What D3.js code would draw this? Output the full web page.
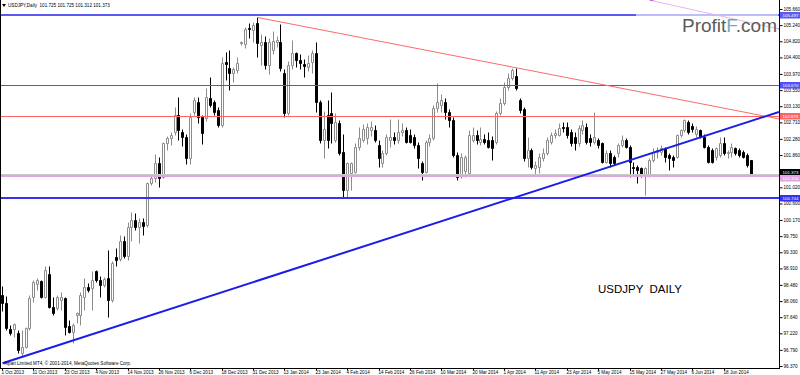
<!DOCTYPE html>
<html>
<head>
<meta charset="utf-8">
<script src="https://cdn.jsdelivr.net/npm/d3@7"></script>
<style>
body { margin: 0; background: #fff; }
svg { display: block; }
text { font-family: "Liberation Sans", Arial, sans-serif; }
</style>
</head>
<body>
<svg id="drawing_region"></svg>
<script>
// USDJPY daily, 1 Oct 2013 .. 27 Jun 2014
const opens = [
  98.22,98.00,97.33,97.32,97.22,96.70,96.87,97.35,98.17,98.50,
  98.57,98.17,98.76,97.91,97.87,98.09,98.13,97.40,97.26,97.69,
  97.70,98.17,98.43,98.39,98.83,98.61,98.48,98.65,98.09,99.20,
  99.15,99.61,99.22,99.99,100.17,99.99,100.13,100.04,101.12,101.25,
  101.65,101.30,102.17,102.30,102.47,102.90,102.47,102.34,101.77,102.99,
  103.25,102.86,102.82,103.34,103.25,103.03,102.64,104.29,104.12,103.99,
  104.07,104.77,104.74,105.16,105.11,105.30,104.72,104.81,104.20,104.58,
  104.79,104.81,103.99,102.95,104.20,104.52,104.33,104.22,104.16,104.29,
  104.51,103.25,102.25,102.90,102.95,102.25,102.69,101.95,100.95,101.40,
  101.43,102.08,102.25,102.30,102.51,102.51,102.12,101.65,101.90,102.25,
  102.32,102.25,102.47,102.51,102.38,102.34,102.12,101.65,101.43,102.21,
  102.30,103.08,103.16,103.25,102.99,102.77,101.86,101.34,101.45,101.39,
  102.25,102.38,102.21,102.27,102.25,102.25,102.21,102.95,103.21,103.64,
  103.86,103.92,103.29,103.05,101.78,101.99,101.52,101.56,101.78,101.91,
  102.21,102.38,102.38,102.60,102.60,102.47,102.34,102.16,102.51,102.60,
  102.30,102.21,102.25,102.16,101.69,101.90,101.82,101.90,102.12,102.25,
  102.08,101.56,101.56,101.51,101.34,101.34,101.73,101.95,101.95,102.03,
  101.86,101.82,101.82,102.38,102.51,102.73,102.62,102.42,102.51,102.34,
  102.08,101.99,101.82,101.86,102.16,101.90,101.95,102.03,101.99,101.95,
  101.86,101.725
];
const highs = [
  98.45,98.18,97.44,97.50,97.31,97.31,97.39,98.22,98.61,98.65,
  98.62,98.98,98.98,98.17,98.22,98.30,98.17,97.57,97.48,97.78,
  98.30,98.65,98.52,98.83,98.87,98.70,98.68,99.39,99.09,99.43,
  99.78,99.74,100.13,100.39,100.34,100.21,100.21,101.17,101.31,101.88,
  101.80,102.20,102.36,102.45,103.10,103.37,102.55,102.40,102.95,103.38,
  103.38,102.90,103.60,103.90,103.30,103.10,104.40,104.55,104.60,104.15,
  104.40,104.82,105.18,105.30,105.32,105.44,105.00,104.95,104.90,105.10,
  104.95,105.27,104.10,104.30,104.85,104.55,104.50,104.35,104.45,104.60,
  104.81,103.30,103.00,103.29,103.50,102.95,102.77,102.40,101.68,101.68,
  102.17,102.60,102.68,102.70,102.75,102.65,102.25,101.98,102.40,102.81,
  102.45,102.81,102.70,102.60,102.55,102.40,102.20,101.70,102.25,102.40,
  103.15,103.74,103.45,103.35,103.05,102.85,101.95,101.90,101.85,102.51,
  102.60,102.50,102.60,102.40,102.47,102.35,103.00,103.35,103.75,104.00,
  104.12,104.13,103.35,103.10,102.34,102.05,101.70,101.90,102.05,102.34,
  102.47,102.55,102.70,102.73,102.72,102.55,102.45,102.65,102.78,102.70,
  102.40,102.99,102.30,102.21,101.99,101.99,101.86,102.16,102.38,102.30,
  102.12,101.69,101.60,101.56,101.56,101.77,102.03,102.08,102.12,102.08,
  101.90,101.86,102.42,102.55,102.79,102.77,102.70,102.62,102.55,102.42,
  102.12,102.03,102.08,102.34,102.34,101.99,102.16,102.08,102.03,101.99,
  101.90,101.725
];
const lows = [
  97.80,97.31,97.18,97.13,96.72,96.62,96.83,97.31,98.04,98.35,
  98.13,98.13,97.87,97.70,97.83,97.83,97.18,97.22,96.98,97.48,
  97.44,97.83,98.30,97.83,98.56,98.17,98.43,97.65,98.04,98.96,
  99.09,99.17,99.13,99.61,99.91,99.56,99.78,99.99,101.08,101.15,
  101.02,101.25,102.00,102.12,102.38,102.25,102.10,101.62,101.62,102.90,
  102.70,102.15,102.75,103.10,102.90,102.58,102.60,103.80,103.55,103.75,
  104.00,104.73,104.65,104.90,104.80,104.40,104.20,104.10,103.98,104.50,
  104.68,104.05,102.86,102.90,104.10,104.15,104.10,103.88,104.05,103.99,
  102.99,102.17,101.78,102.03,102.17,102.20,101.86,100.76,100.76,100.95,
  101.38,102.00,102.20,102.15,102.35,102.20,101.55,101.56,101.85,102.08,
  102.15,102.17,102.35,102.17,102.17,102.05,101.52,101.21,101.38,102.10,
  102.25,102.98,102.98,102.80,102.60,101.80,101.22,101.25,101.30,101.34,
  102.20,102.15,102.12,102.15,102.04,101.73,102.15,102.90,103.15,103.55,
  103.80,103.55,102.95,101.70,101.56,101.50,101.33,101.40,101.70,101.86,
  102.15,102.30,102.35,102.45,102.30,102.10,101.98,102.10,102.40,102.15,
  102.10,102.15,102.04,101.64,101.64,101.56,101.60,101.82,102.08,102.03,
  101.30,101.34,101.12,101.30,100.82,101.30,101.69,101.77,101.86,101.69,
  101.47,101.56,101.77,102.34,102.47,102.42,102.45,102.34,102.30,102.03,
  101.64,101.65,101.73,101.82,101.86,101.77,101.82,101.86,101.82,101.77,
  101.56,101.312
];
const closes = [
  98.00,97.35,97.24,97.46,96.79,96.87,97.35,98.13,98.56,98.60,
  98.17,98.87,97.91,97.74,98.17,98.17,97.39,97.26,97.44,97.74,
  98.22,98.43,98.36,98.61,98.61,98.48,98.63,98.09,99.04,99.13,
  99.61,99.22,99.99,100.17,99.99,100.13,100.01,101.12,101.25,101.65,
  101.26,102.17,102.30,102.38,102.90,102.51,102.34,101.77,102.86,103.28,
  102.86,102.43,103.36,103.16,102.99,102.64,104.25,104.22,103.99,104.09,
  104.25,104.79,105.13,105.13,105.24,104.77,104.81,104.20,104.81,104.83,
  104.85,104.12,102.95,104.20,104.52,104.33,104.25,104.18,104.26,104.51,
  103.25,102.25,102.55,102.25,102.69,102.73,101.90,100.95,101.64,101.65,
  102.08,102.30,102.55,102.60,102.60,102.25,101.78,101.90,102.34,102.34,
  102.25,102.47,102.51,102.21,102.21,102.12,101.78,101.43,102.21,102.30,
  103.08,103.25,103.29,102.99,102.77,101.86,101.30,101.82,101.80,102.38,
  102.38,102.25,102.27,102.21,102.08,102.04,102.95,103.21,103.64,103.86,
  104.07,103.60,103.03,101.78,101.99,101.56,101.60,101.82,101.91,102.25,
  102.38,102.43,102.56,102.56,102.38,102.16,102.16,102.56,102.64,102.21,
  102.21,102.34,102.12,101.69,101.90,101.64,101.64,102.12,102.25,102.08,
  101.69,101.51,101.47,101.34,101.51,101.73,101.95,101.99,102.03,101.82,
  101.77,101.73,102.38,102.51,102.77,102.47,102.55,102.55,102.34,102.08,
  101.69,101.69,102.03,102.16,101.90,101.95,102.08,101.90,101.86,101.82,
  101.60,101.373
];

const holidays = ['2013-12-25', '2014-01-01'];

const timeLabels = ['1 Oct 2013','11 Oct 2013','23 Oct 2013','4 Nov 2013','14 Nov 2013','26 Nov 2013',
  '6 Dec 2013','18 Dec 2013','31 Dec 2013','13 Jan 2014','23 Jan 2014','4 Feb 2014','14 Feb 2014',
  '26 Feb 2014','10 Mar 2014','20 Mar 2014','1 Apr 2014','11 Apr 2014','23 Apr 2014','5 May 2014',
  '15 May 2014','27 May 2014','6 Jun 2014','18 Jun 2014'];

const priceTicks = ['105.660','105.240','104.820','104.400','103.970','103.550','103.130','102.710',
  '102.280','101.860','101.440','101.020','100.600','100.170','99.750','99.330','98.910','98.480',
  '98.060','97.640','97.220','96.790','96.370'];

// horizontal levels drawn on the chart
const levelPrices = [105.497, 103.670, 102.875, 101.316, 100.744];

// trend lines as [bar index, price] anchors, drawn as rays to the right
const trendHigh = [[65, 105.44], [131, 104.13]];
const trendLow = [[0, 96.44], [191, 102.75]];
const trendOld = [[165, 105.89], [197.5, 105.15]];

const symbolName = 'USDJPY,Daily';
const chartTitle = 'USDJPY  DAILY';
const copyright = 'Alpari Limited MT4, \u00a9 2001-2014, MetaQuotes Software Corp.';

// build trading days (weekdays, without the two holidays)
const fmtKey = d3.timeFormat('%Y-%m-%d');
const fmtLabel = d3.timeFormat('%-d %b %Y');
const dates = [];
let day = new Date(2013, 9, 1);
while (dates.length < opens.length) {
    const wd = day.getDay();
    if (wd !== 0 && wd !== 6 && !holidays.includes(fmtKey(day))) dates.push(new Date(day));
    day = d3.timeDay.offset(day, 1);
}
const data = dates.map((d, i) => ({ i: i, date: d, o: opens[i], h: highs[i], l: lows[i], c: closes[i] }));

class CandleChart {
  constructor(config, data) {
    this.config = {
      parent: config.parent,
      width: config.width || 800,
      height: config.height || 375,
      plotRight: config.plotRight || 779,
      plotBottom: config.plotBottom || 368
    };
    this.data = data;
    this.init();
  }
  init() {
    let self = this;
    self.svg = d3.select(self.config.parent)
        .attr('width', self.config.width)
        .attr('height', self.config.height);

    // one bar every ~3.92 px, chart shifted so the last bar sits near x=752
    self.xscale = d3.scaleLinear()
        .domain([0, self.data.length - 1])
        .range([2.5, 751.6]);
    self.yscale = d3.scaleLinear()
        .domain([96.318, 105.894])
        .range([self.config.plotBottom, 0]);

    self.svg.append('defs').append('clipPath').attr('id', 'plotclip')
      .append('rect')
        .attr('x', 0).attr('y', 0)
        .attr('width', self.config.plotRight).attr('height', self.config.plotBottom);

    self.chart = self.svg.append('g');
    self.objects = self.svg.append('g').attr('clip-path', 'url(#plotclip)');
    self.overlay = self.svg.append('g');
  }
  render() {
    let self = this;
    const xs = self.xscale, ys = self.yscale;
    const R = self.config.plotRight, B = self.config.plotBottom;
    const cx = i => Math.floor(xs(i)) + 0.5;
    const snap = p => Math.round(ys(p)) + 0.5;

    // candles
    const bars = self.chart.selectAll('.bar')
      .data(self.data)
      .join('g')
        .attr('class', 'bar');
    bars.append('line')
        .attr('x1', d => cx(d.i)).attr('x2', d => cx(d.i))
        .attr('y1', d => snap(d.h)).attr('y2', d => snap(d.l))
        .attr('stroke', d => d.c >= d.o ? '#8c8c8c' : '#000')
        .attr('stroke-width', 1);
    bars.append('path')
        .attr('d', d => {
          const x0 = cx(d.i) - 1, x1 = cx(d.i) + 1;
          const y0 = snap(Math.max(d.o, d.c)), y1 = snap(Math.min(d.o, d.c));
          return `M${x0},${y0}H${x1}V${y1}H${x0}Z`;
        })
        .attr('fill', d => d.c >= d.o ? '#fff' : '#000')
        .attr('stroke', d => d.c >= d.o ? '#8c8c8c' : '#000')
        .attr('stroke-width', 1);

    // bid line at the last close
    const last = self.data[self.data.length - 1];
    self.objects.append('line')
        .attr('x1', 0).attr('x2', R)
        .attr('y1', snap(last.c)).attr('y2', snap(last.c))
        .attr('stroke', '#c8c8c8');

    // horizontal levels
    const levelLook = [
      { color: '#5a5af2', width: 2 },
      { color: '#5050ff', width: 1 },
      { color: '#ff6464', width: 1 },
      { color: '#e2a4e2', width: 2 },
      { color: '#3434ee', width: 2 }
    ];
    self.objects.selectAll('.level')
      .data(levelPrices)
      .join('line')
        .attr('class', 'level')
        .attr('x1', 0).attr('x2', R)
        .attr('y1', (d, i) => Math.round(ys(d)) + (levelLook[i].width === 2 ? 0 : 0.5))
        .attr('y2', (d, i) => Math.round(ys(d)) + (levelLook[i].width === 2 ? 0 : 0.5))
        .attr('stroke', (d, i) => levelLook[i].color)
        .attr('stroke-width', (d, i) => levelLook[i].width);

    // trend rays
    const rightIndex = xs.invert(R);
    const ray = a => {
      const slope = (a[1][1] - a[0][1]) / (a[1][0] - a[0][0]);
      return [[a[0][0], a[0][1]], [rightIndex, a[0][1] + slope * (rightIndex - a[0][0])]];
    };
    const trends = [
      { pts: ray(trendOld), color: '#c848c8', width: 1 },
      { pts: ray(trendHigh), color: '#ff6a6a', width: 1 },
      { pts: ray(trendLow), color: '#1c1ce8', width: 2 }
    ];
    const line = d3.line().x(p => xs(p[0])).y(p => ys(p[1]));
    self.objects.selectAll('.trend')
      .data(trends)
      .join('path')
        .attr('class', 'trend')
        .attr('d', d => line(d.pts))
        .attr('fill', 'none')
        .attr('stroke', d => d.color)
        .attr('stroke-width', d => d.width);

    // watermark with a faded backing
    self.overlay.append('rect')
        .attr('x', 636).attr('y', 1).attr('width', 142).attr('height', 40)
        .attr('fill', '#fff').attr('opacity', 0.6);
    const wm = self.overlay.append('text')
        .attr('x', 777).attr('y', 32)
        .attr('text-anchor', 'end')
        .attr('font-size', 19)
        .attr('fill', '#5c5c5c');
    wm.append('tspan').text('Profit');
    wm.append('tspan').attr('fill', '#79a9b8').text('F');
    wm.append('tspan').text('.com');

    // frame
    self.overlay.append('line')
        .attr('x1', 0.5).attr('x2', 0.5).attr('y1', 0).attr('y2', B)
        .attr('stroke', '#000');
    self.overlay.append('line')
        .attr('x1', R + 0.5).attr('x2', R + 0.5).attr('y1', 0).attr('y2', B + 1)
        .attr('stroke', '#000');
    self.overlay.append('line')
        .attr('x1', 0).attr('x2', R + 1).attr('y1', B + 0.5).attr('y2', B + 0.5)
        .attr('stroke', '#000');

    // level labels on the price axis (bid tag slotted in, nudged apart so they stay legible)
    const tags = levelPrices.map((p, i) => ({ p: p, fill: levelLook[i].color, y: Math.round(ys(p)) }));
    tags.splice(3, 0, { p: last.c, fill: '#000', y: Math.round(ys(last.c)) });
    for (let k = 1; k < tags.length; k++) {
      const gap = tags[k].y - tags[k - 1].y;
      if (gap < 5) {
        const push = (5 - gap) / 2;
        tags[k - 1].y -= Math.ceil(push);
        tags[k].y += Math.floor(push) + 1;
      }
    }

    // price axis; tick labels hidden behind a tag are dropped, as the terminal does
    const covered = v => tags.some(t => Math.abs(ys(v) - t.y) < 3.2);
    self.yaxis = d3.axisRight(ys)
        .tickValues(priceTicks.map(Number))
        .tickSize(3).tickSizeOuter(0).tickPadding(1)
        .tickFormat((d, i) => covered(d) ? '' : priceTicks[i]);
    const ya = self.overlay.append('g')
        .attr('transform', `translate(${R + 0.5},0)`)
        .call(self.yaxis);
    ya.select('.domain').remove();
    ya.selectAll('text').attr('font-size', 4.6).attr('font-family', '"Liberation Sans", Arial, sans-serif');

    // time axis
    const tickIdx = timeLabels.map(l => self.data.findIndex(d => fmtLabel(d.date) === l));
    self.xaxis = d3.axisBottom(xs)
        .tickValues(tickIdx)
        .tickSize(2).tickSizeOuter(0).tickPadding(0)
        .tickFormat((d, i) => timeLabels[i]);
    const xa = self.overlay.append('g')
        .attr('transform', `translate(0,${B + 0.5})`)
        .call(self.xaxis);
    xa.select('.domain').remove();
    xa.selectAll('.tick').attr('transform', d => `translate(${cx(d)},0)`);
    xa.selectAll('text')
        .attr('text-anchor', 'start').attr('x', -1)
        .attr('font-size', 4.6).attr('font-family', '"Liberation Sans", Arial, sans-serif');

    const tag = self.overlay.selectAll('.tag')
      .data(tags)
      .join('g')
        .attr('class', 'tag')
        .attr('transform', d => `translate(780,${d.y})`);
    tag.append('rect')
        .attr('x', 0).attr('y', -3).attr('width', 20).attr('height', 6.5)
        .attr('fill', d => d.fill);
    tag.append('text')
        .attr('x', 2.5).attr('y', 1.6)
        .attr('font-size', 4.4).attr('fill', '#fff')
        .text(d => d.p.toFixed(3));

    // header, title, copyright
    self.overlay.append('path')
        .attr('d', 'M2,4H6L4,7Z').attr('fill', '#000');
    self.overlay.append('text')
        .attr('x', 8).attr('y', 7)
        .attr('font-size', 4.6)
        .text(`${symbolName}  ${last.o.toFixed(3)} ${last.h.toFixed(3)} ${last.l.toFixed(3)} ${last.c.toFixed(3)}`)
        .style('white-space', 'pre');
    self.overlay.append('text')
        .attr('x', 598).attr('y', 293)
        .attr('font-size', 11.5)
        .style('white-space', 'pre')
        .text(chartTitle);
    self.overlay.append('text')
        .attr('x', 4).attr('y', 365)
        .attr('font-size', 4.6)
        .text(copyright);
  }
}

const chart = new CandleChart({ parent: '#drawing_region', width: 800, height: 375 }, data);
chart.render();
</script>
</body>
</html>
